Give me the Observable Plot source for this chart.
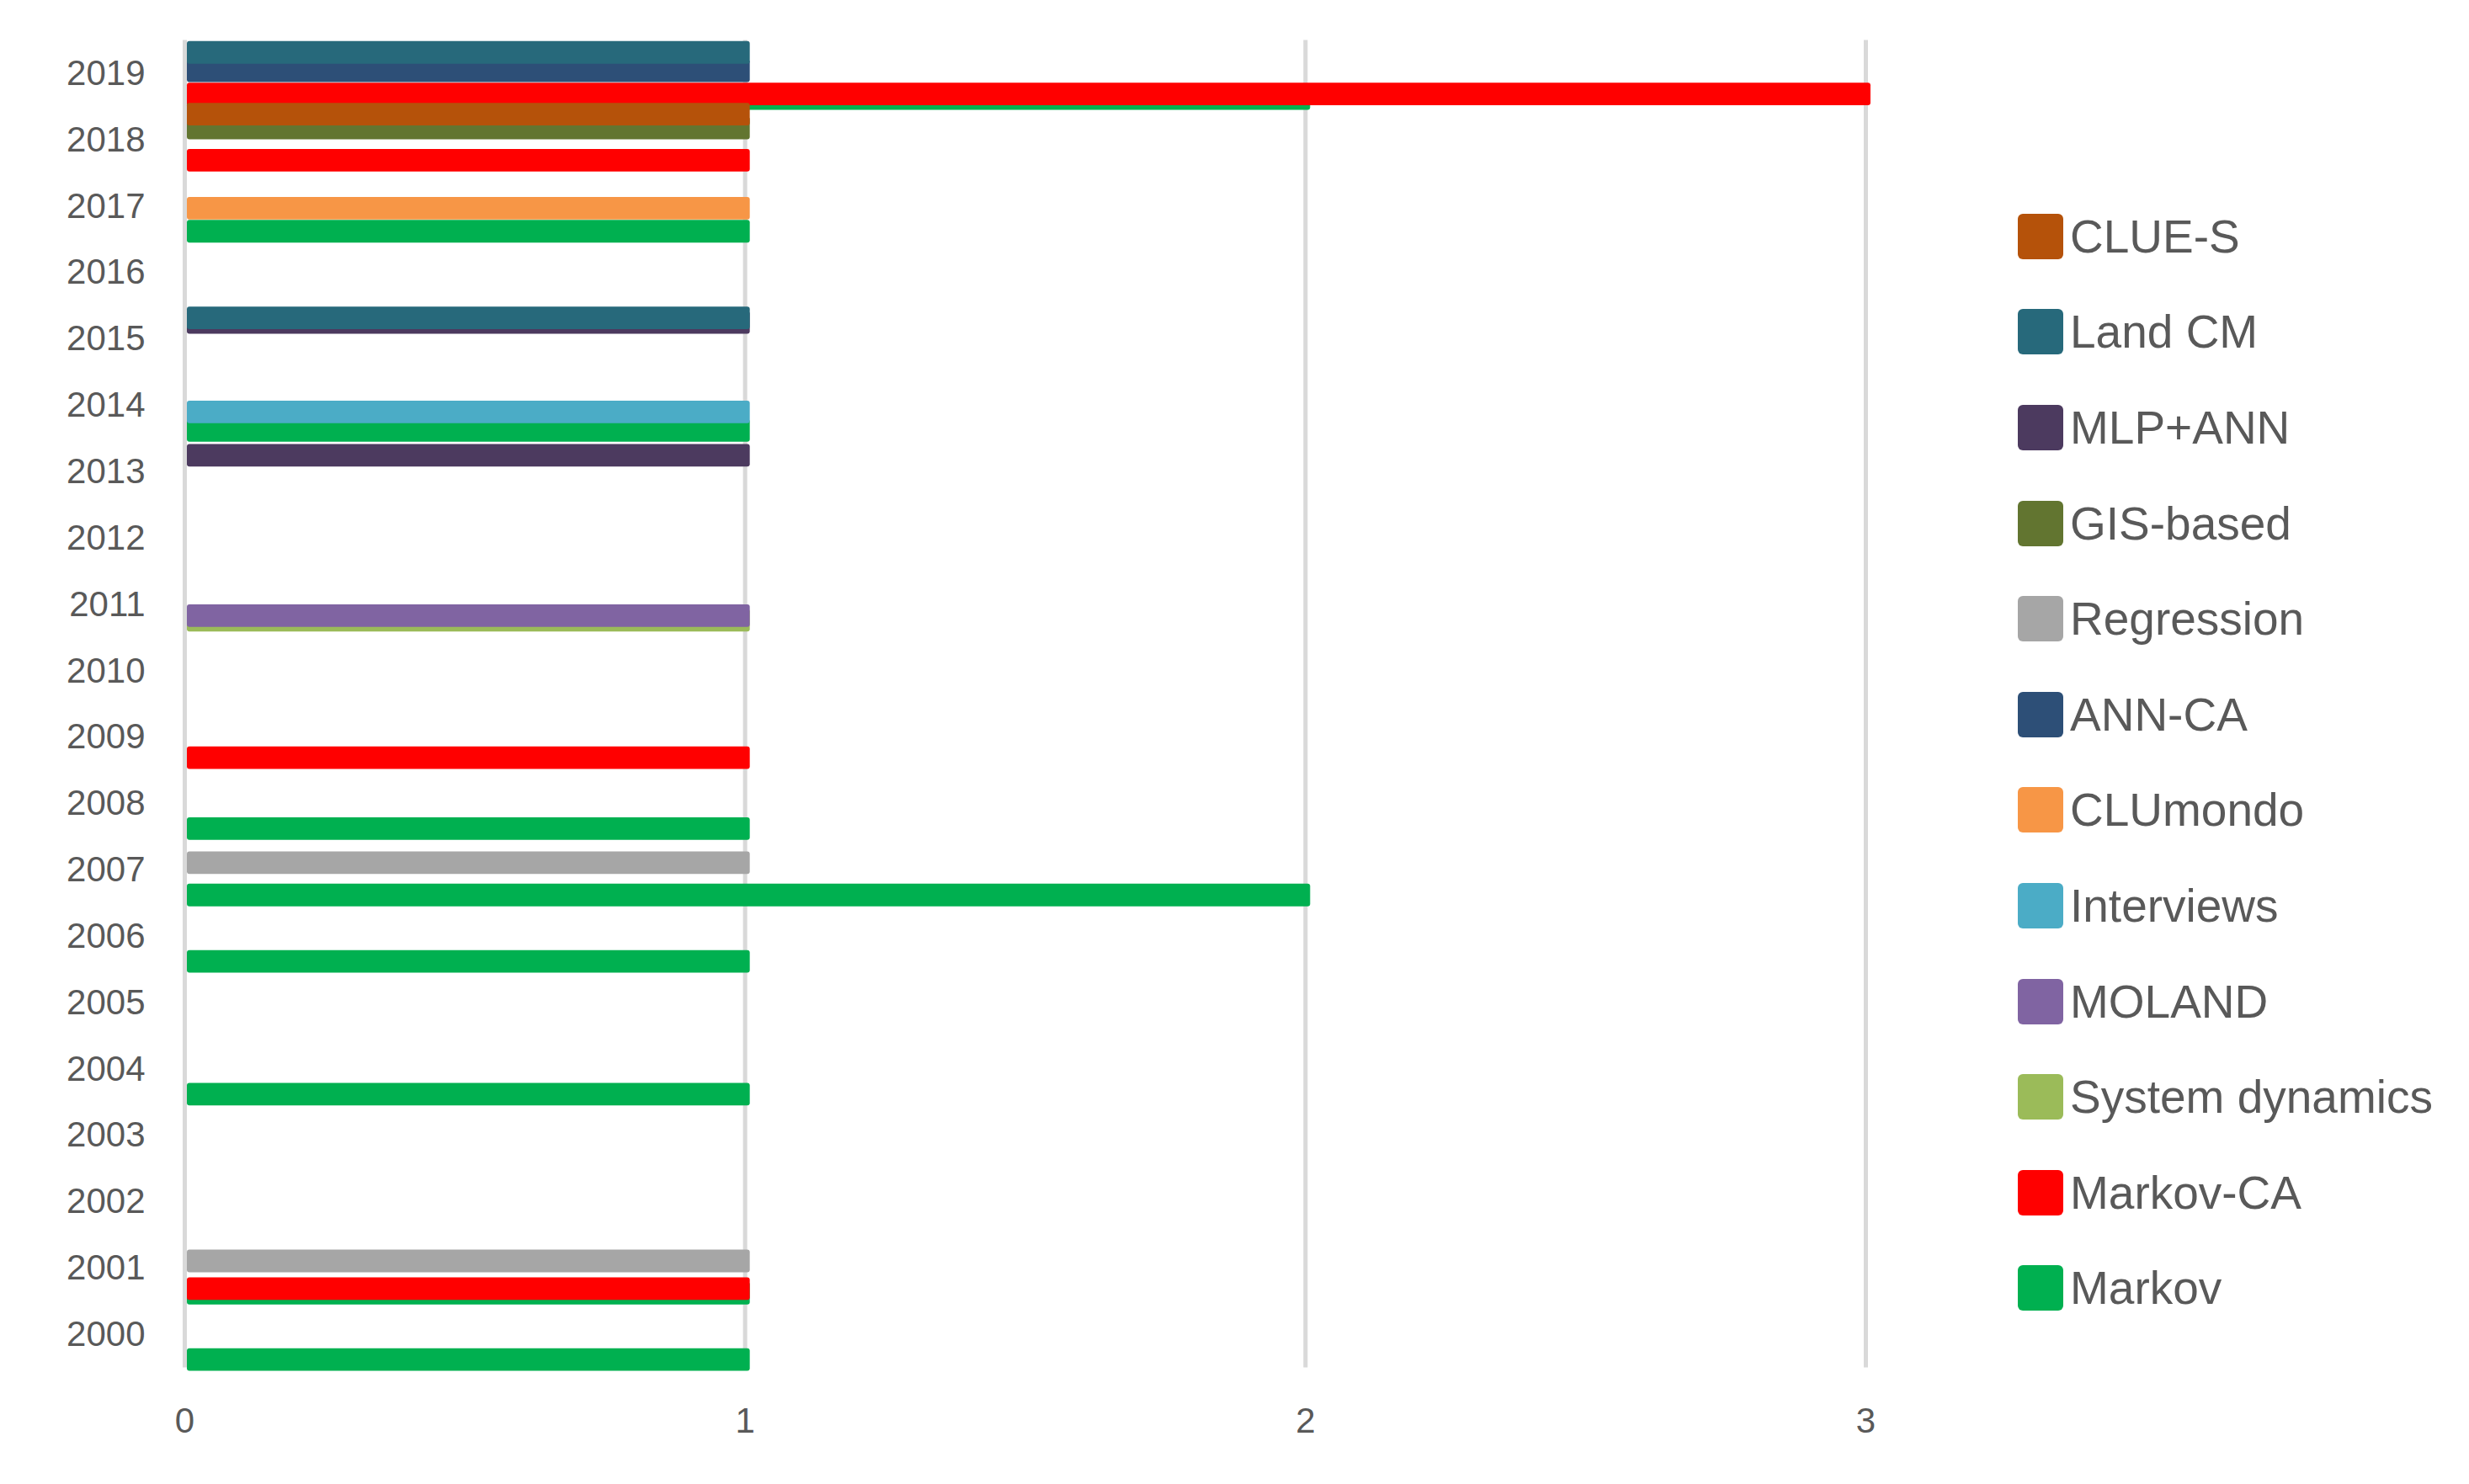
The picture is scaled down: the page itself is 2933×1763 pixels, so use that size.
<!DOCTYPE html>
<html>
<head>
<meta charset="utf-8">
<script src="https://cdn.jsdelivr.net/npm/d3@7"></script>
<script src="https://cdn.jsdelivr.net/npm/@observablehq/plot@0.6"></script>
<style>
  html, body { margin: 0; padding: 0; background: #ffffff; }
  #wrap { position: relative; width: 2933px; height: 1763px; overflow: hidden; }
  #legend { position: absolute; left: 2397px; top: 224px; font-family: "Liberation Sans", Arial, sans-serif; font-size: 55px; color: #595959; }
  .row { display: flex; align-items: center; height: 113.6px; white-space: nowrap; }
  .sw { width: 54px; height: 54px; border-radius: 6px; margin-right: 8px; flex: none; }
</style>
</head>
<body>
<div id="wrap"><div id="chart"></div><div id="legend"></div></div>
<script>
// Categories (years) and x-axis ticks
const years = [2000, 2001, 2002, 2003, 2004, 2005, 2006, 2007, 2008, 2009,
               2010, 2011, 2012, 2013, 2014, 2015, 2016, 2017, 2018, 2019];
const xTicks = [0, 1, 2, 3];

// Series, in drawing order (first = bottom of each year cluster)
const seriesNames = ["Markov", "Markov-CA", "System dynamics", "MOLAND", "Interviews", "CLUmondo",
                     "ANN-CA", "Regression", "GIS-based", "MLP+ANN", "Land CM", "CLUE-S"];
const seriesColors = ["#00B050", "#FF0000", "#9BBB59", "#8064A2", "#4BACC6", "#F79646",
                      "#2D4F77", "#A6A6A6", "#627530", "#4C3A5F", "#27697B", "#B5520A"];

// Values per year (2000 ... 2019)
const markov         = [1,1,0,0,1,0,1,2,1,0,0,0,0,0,1,0,0,1,0,2];
const markovCA       = [0,1,0,0,0,0,0,0,0,1,0,0,0,0,0,0,0,0,1,3];
const systemDynamics = [0,0,0,0,0,0,0,0,0,0,0,1,0,0,0,0,0,0,0,0];
const moland         = [0,0,0,0,0,0,0,0,0,0,0,1,0,0,0,0,0,0,0,0];
const interviews     = [0,0,0,0,0,0,0,0,0,0,0,0,0,0,1,0,0,0,0,0];
const clumondo       = [0,0,0,0,0,0,0,0,0,0,0,0,0,0,0,0,0,1,0,0];
const annCA          = [0,0,0,0,0,0,0,0,0,0,0,0,0,0,0,0,0,0,0,1];
const regression     = [0,1,0,0,0,0,0,1,0,0,0,0,0,0,0,0,0,0,0,0];
const gisBased       = [0,0,0,0,0,0,0,0,0,0,0,0,0,0,0,0,0,0,1,0];
const mlpAnn         = [0,0,0,0,0,0,0,0,0,0,0,0,0,1,0,1,0,0,0,0];
const landCM         = [0,0,0,0,0,0,0,0,0,0,0,0,0,0,0,1,0,0,0,1];
const clueS          = [0,0,0,0,0,0,0,0,0,0,0,0,0,0,0,0,0,0,1,0];

const seriesValues = [markov, markovCA, systemDynamics, moland, interviews, clumondo,
                      annCA, regression, gisBased, mlpAnn, landCM, clueS];

// Layout of the (overlapping) cluster: slot step and bar thickness in year units
const step = 0.0695, thick = 0.34;
const n = seriesNames.length;

const table = [];
seriesValues.forEach((vals, i) => {
  const c = ((n + 1) / 2 - (i + 1)) * step;
  vals.forEach((v, j) => {
    if (v > 0) table.push({series: seriesNames[i], year: years[j], value: v,
                           ylo: years[j] - c - thick / 2, yhi: years[j] - c + thick / 2});
  });
});

const chart = Plot.plot({
  width: 2933,
  height: 1763,
  marginTop: 47.5,
  marginBottom: 138.5,
  marginLeft: 219,
  marginRight: 717,
  style: {fontFamily: "Liberation Sans, Arial, sans-serif", fontSize: "42px", color: "#595959", background: "#ffffff"},
  x: {domain: [0, 3]},
  y: {domain: [1999.5, 2019.5]},
  color: {domain: seriesNames, range: seriesColors},
  marks: [
    Plot.gridX(xTicks, {stroke: "#D9D9D9", strokeOpacity: 1, strokeWidth: 5}),
    Plot.rectX(table, {x1: 0, x2: "value", y1: "ylo", y2: "yhi", fill: "series",
                       insetLeft: 3, insetRight: -6, rx: 3}),
    Plot.axisY({ticks: years, tickFormat: d => String(d), tickSize: 0, tickPadding: 47, label: null, fontSize: 42}),
    Plot.axisX({ticks: xTicks, tickFormat: d => String(d), tickSize: 0, tickPadding: 47, label: null, fontSize: 42})
  ]
});
document.getElementById("chart").appendChild(chart);

// Legend (top to bottom = reverse of drawing order)
const legend = document.getElementById("legend");
for (let i = n - 1; i >= 0; i--) {
  const row = document.createElement("div");
  row.className = "row";
  const sw = document.createElement("div");
  sw.className = "sw";
  sw.style.background = seriesColors[i];
  const tx = document.createElement("span");
  tx.textContent = seriesNames[i];
  row.appendChild(sw);
  row.appendChild(tx);
  legend.appendChild(row);
}
</script>
</body>
</html>
